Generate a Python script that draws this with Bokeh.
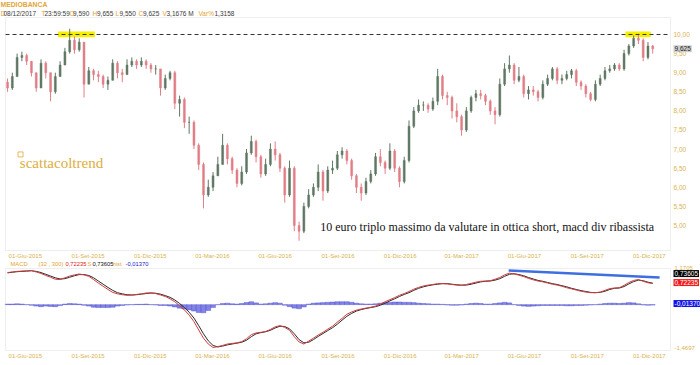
import pandas as pd
from bokeh.plotting import figure
from bokeh.models import Range1d, Label, BoxAnnotation
from bokeh.embed import file_html
from bokeh.resources import INLINE

DAY = 86400000


def ms(s):
    return pd.Timestamp(s).value // 10**6


# ---------------- data (weekly bars) ----------------
WEEK_END = pd.date_range("2015-05-08", "2017-12-08", freq="W-FRI")
FIRST_OPEN = 8.75
CLOSE = [
    8.6, 8.9, 9.4, 9.45, 9.3, 9.0, 8.6, 9.25, 9.0, 8.5,
    8.9, 9.2, 9.55, 9.85, 9.6, 9.8, 8.7, 9.05, 8.95, 8.9,
    8.7, 8.8, 9.25, 9.0, 8.95, 9.2, 9.3, 9.2, 9.3, 9.2,
    9.1, 9.1, 8.6, 8.85, 9.0, 8.2, 8.3, 7.7, 7.7, 7.1,
    6.6, 5.8, 6.0, 6.3, 6.6, 7.1, 6.75, 6.45, 6.1, 6.4,
    6.9, 7.2, 6.8, 6.35, 6.6, 7.0, 6.85, 6.5, 5.8, 6.5,
    5.0, 4.85, 5.5, 5.8, 6.0, 6.4, 5.9, 6.45, 6.5, 6.85,
    6.95, 6.7, 6.3, 6.0, 5.85, 6.15, 6.35, 6.8, 6.65, 6.5,
    6.95, 6.5, 6.15, 6.7, 7.6, 8.0, 8.15, 8.15, 8.05, 8.25,
    8.9, 8.4, 8.35, 8.0, 7.85, 7.5, 8.0, 8.35, 8.45, 8.4,
    8.25, 8.0, 7.9, 8.7, 9.1, 9.2, 8.8, 8.9, 8.45, 8.55,
    8.5, 8.35, 8.7, 8.85, 9.1, 8.8, 8.85, 8.95, 9.05, 8.75,
    8.65, 8.45, 8.3, 8.7, 8.85, 9.05, 9.1, 9.2, 9.1, 9.5,
    9.7, 9.9, 9.85, 9.4, 9.7, 9.625,
]
HIGH = [
    8.85, 9.0, 9.5, 9.55, 9.5, 9.3, 9.0, 9.35, 9.3, 9.0,
    9.0, 9.3, 9.65, 10.15, 9.95, 9.9, 9.8, 9.15, 9.1, 9.05,
    8.95, 8.9, 9.35, 9.3, 9.1, 9.35, 9.4, 9.35, 9.4, 9.35,
    9.25, 9.2, 9.1, 8.95, 9.05, 9.05, 8.4, 8.35, 7.85, 7.75,
    7.15, 6.65, 6.2, 6.4, 6.8, 7.4, 7.15, 6.8, 6.5, 6.55,
    7.0, 7.35, 7.25, 6.85, 6.75, 7.15, 7.2, 6.9, 6.55, 6.7,
    6.55, 5.1, 5.6, 5.95, 6.1, 6.6, 6.45, 6.55, 6.7, 6.95,
    7.05, 7.0, 6.75, 6.35, 6.1, 6.25, 6.45, 6.9, 7.0, 6.7,
    7.15, 7.0, 6.55, 6.8, 7.75, 8.1, 8.3, 8.25, 8.2, 8.35,
    9.1, 8.95, 8.5, 8.4, 8.2, 7.9, 8.1, 8.4, 8.55, 8.55,
    8.45, 8.3, 8.1, 8.85, 9.25, 9.45, 9.25, 9.15, 8.95, 8.65,
    8.65, 8.55, 8.8, 8.95, 9.15, 9.15, 8.95, 9.05, 9.1, 9.1,
    8.8, 8.7, 8.5, 8.8, 8.95, 9.15, 9.2, 9.25, 9.25, 9.6,
    9.75, 9.97, 10.02, 9.9, 9.8, 9.72,
]
LOW = [
    8.5, 8.55, 8.9, 9.3, 9.2, 8.9, 8.5, 8.6, 8.85, 8.25,
    8.45, 8.9, 9.2, 9.5, 9.5, 9.55, 8.35, 8.7, 8.8, 8.75,
    8.6, 8.55, 8.8, 8.85, 8.75, 8.95, 9.15, 9.1, 9.15, 9.1,
    9.0, 8.95, 8.4, 8.55, 8.8, 8.05, 7.85, 7.55, 7.4, 7.0,
    6.45, 5.45, 5.75, 5.9, 6.3, 6.6, 6.6, 6.35, 6.0, 6.05,
    6.35, 6.85, 6.65, 6.25, 6.3, 6.55, 6.7, 6.4, 5.6, 5.75,
    4.85, 4.6, 4.8, 5.45, 5.75, 5.9, 5.65, 5.85, 6.35, 6.45,
    6.75, 6.6, 6.2, 5.85, 5.65, 5.8, 6.1, 6.3, 6.55, 6.35,
    6.45, 6.4, 6.0, 6.1, 6.65, 7.55, 7.95, 8.0, 7.95, 8.0,
    8.15, 8.3, 8.15, 7.8, 7.7, 7.35, 7.45, 7.95, 8.25, 8.3,
    8.15, 7.9, 7.65, 7.85, 8.65, 9.0, 8.7, 8.75, 8.35, 8.3,
    8.4, 8.25, 8.3, 8.65, 8.8, 8.7, 8.7, 8.8, 8.85, 8.65,
    8.55, 8.35, 8.25, 8.25, 8.65, 8.8, 9.0, 9.05, 9.05, 9.05,
    9.45, 9.65, 9.75, 9.3, 9.35, 9.5,
]
MACD = [
    1.10, 1.12, 1.14, 1.15, 1.16, 1.17, 1.12, 1.07, 1.00, 0.94,
    0.87, 0.86, 0.92, 0.98, 1.02, 1.05, 1.02, 0.97, 0.86, 0.74,
    0.63, 0.52, 0.42, 0.37, 0.34, 0.32, 0.33, 0.35, 0.37, 0.40,
    0.40, 0.38, 0.33, 0.28, 0.20, 0.10, -0.04, -0.18, -0.36, -0.58,
    -0.87, -1.15, -1.35, -1.4697, -1.44, -1.40, -1.35, -1.33, -1.31, -1.27,
    -1.17, -1.03, -0.97, -0.95, -0.92, -0.85, -0.76, -0.72, -0.78, -0.88,
    -1.10, -1.28, -1.35, -1.25, -1.15, -1.04, -0.95, -0.84, -0.74, -0.60,
    -0.47, -0.33, -0.25, -0.19, -0.15, -0.12, -0.09, -0.05, 0.02, 0.10,
    0.17, 0.24, 0.32, 0.38, 0.45, 0.53, 0.59, 0.64, 0.67, 0.69,
    0.72, 0.72, 0.71, 0.69, 0.67, 0.66, 0.69, 0.73, 0.77, 0.80,
    0.81, 0.82, 0.87, 0.93, 1.02, 1.08, 1.05, 1.01, 0.96, 0.90,
    0.85, 0.81, 0.78, 0.74, 0.70, 0.67, 0.63, 0.58, 0.54, 0.50,
    0.46, 0.43, 0.41, 0.41, 0.43, 0.49, 0.55, 0.57, 0.58, 0.66,
    0.76, 0.83, 0.86, 0.80, 0.75, 0.72235,
]
SIGNAL = [
    1.09, 1.11, 1.13, 1.14, 1.15, 1.16, 1.14, 1.10, 1.04, 0.98,
    0.92, 0.88, 0.89, 0.94, 0.99, 1.03, 1.03, 1.00, 0.92, 0.81,
    0.70, 0.59, 0.49, 0.41, 0.37, 0.34, 0.33, 0.34, 0.36, 0.38,
    0.40, 0.39, 0.36, 0.31, 0.25, 0.16, 0.04, -0.10, -0.26, -0.46,
    -0.72, -1.00, -1.24, -1.40, -1.45, -1.42, -1.38, -1.35, -1.32, -1.29,
    -1.22, -1.10, -1.00, -0.96, -0.93, -0.88, -0.80, -0.74, -0.75, -0.83,
    -1.00, -1.20, -1.31, -1.29, -1.20, -1.09, -0.99, -0.89, -0.79, -0.67,
    -0.53, -0.40, -0.30, -0.22, -0.17, -0.13, -0.10, -0.07, -0.02, 0.05,
    0.13, 0.20, 0.28, 0.35, 0.41, 0.49, 0.56, 0.61, 0.65, 0.68,
    0.70, 0.72, 0.72, 0.70, 0.68, 0.67, 0.67, 0.70, 0.74, 0.78,
    0.80, 0.81, 0.84, 0.89, 0.97, 1.04, 1.06, 1.03, 0.99, 0.93,
    0.88, 0.83, 0.80, 0.76, 0.72, 0.69, 0.65, 0.61, 0.56, 0.52,
    0.48, 0.45, 0.42, 0.41, 0.42, 0.46, 0.52, 0.56, 0.57, 0.62,
    0.71, 0.79, 0.84, 0.82, 0.77, 0.73605,
]
HIST = [
    0.02, 0.02, 0.03, 0.02, 0.00, -0.02, -0.05, -0.07, -0.05, -0.06,
    -0.07, -0.03, 0.02, 0.04, 0.03, 0.02, -0.02, -0.05, -0.09, -0.10,
    -0.10, -0.10, -0.09, -0.05, -0.03, -0.01, 0.00, 0.01, 0.01, 0.02,
    0.00, -0.01, -0.03, -0.03, -0.05, -0.08, -0.12, -0.15, -0.18, -0.22,
    -0.27, -0.28, -0.20, -0.10, 0.00, 0.04, 0.05, 0.03, 0.02, 0.04,
    0.07, 0.10, 0.06, 0.02, 0.03, 0.05, 0.07, 0.05, -0.02, -0.07,
    -0.12, -0.14, -0.08, 0.02, 0.05, 0.06, 0.07, 0.08, 0.09, 0.10,
    0.10, 0.10, 0.08, 0.05, 0.03, 0.02, 0.02, 0.03, 0.05, 0.07,
    0.08, 0.09, 0.09, 0.08, 0.08, 0.07, 0.05, 0.04, 0.03, 0.02,
    0.02, 0.01, -0.01, -0.02, -0.02, -0.01, 0.02, 0.04, 0.05, 0.04,
    0.02, 0.02, 0.04, 0.06, 0.08, 0.06, 0.00, -0.03, -0.05, -0.06,
    -0.05, -0.04, -0.03, -0.03, -0.03, -0.03, -0.03, -0.04, -0.04, -0.03,
    -0.03, -0.02, -0.01, 0.00, 0.02, 0.04, 0.05, 0.05, 0.04, 0.05,
    0.07, 0.06, 0.03, -0.01, -0.02, -0.0137,
]

TICK_DATES = ["2015-06-01", "2015-09-01", "2015-12-01", "2016-03-01", "2016-06-01",
              "2016-09-01", "2016-12-01", "2017-03-01", "2017-06-01", "2017-09-01",
              "2017-12-01"]
TICK_LABELS = ["01-Giu-2015", "01-Set-2015", "01-Dic-2015", "01-Mar-2016", "01-Giu-2016",
               "01-Set-2016", "01-Dic-2016", "01-Mar-2017", "01-Giu-2017", "01-Set-2017",
               "01-Dic-2017"]
PRICE_TICKS = [5.0, 5.5, 6.0, 6.5, 7.0, 7.5, 8.0, 8.5, 9.0, 9.5, 10.0]
PRICE_LABELS = ["5,00", "5,50", "6,00", "6,50", "7,00", "7,50", "8,00", "8,50", "9,00", "9,50", "10,00"]
MACD_TICKS = [1.1705, -1.4697]
MACD_LABELS = ["1,1705", "-1,4697"]
LAST_CLOSE = 9.625
RESISTANCE = 10.0
HIGHLIGHTS = [("2015-07-19", "2015-09-11"), ("2017-10-27", "2017-12-03")]
TREND = (["2017-05-09", "2017-12-16"], [1.17, 0.93])

HEADER_1 = [("MEDIOBANCA", 0)]
HEADER_2 = [("D", 0, 0), ("08/12/2017", 3, 1), ("T", 41, 0), ("23:59:59", 44, 1),
            ("O", 69, 0), ("9,590", 72.5, 1), ("H", 92, 0), ("9,655", 96.5, 1),
            ("L", 115, 0), ("9,550", 119, 1), ("C", 138, 0), ("9,625", 142.5, 1),
            ("V", 162, 0), ("3,1676 M", 166, 1), ("Var%", 198, 0), ("1,3158", 214, 1)]
MACD_HEADER = [("MACD", 10, "g"), ("(32 , 300)", 38, "g"), ("0,72235", 65, "r"),
               ("S", 87, "g"), ("0,73605", 92, "k"), ("hist", 112, "g"),
               ("-0,01370", 125, "b")]

# ---------------- styling / layout ----------------
GOLD = "#e3a436"
AXIS_GOLD = "#d9b24e"
DARK = "#3a3a3a"
UP = "#5f7763"
DOWN = "#e07e87"
FONT = "Liberation Sans"
W, H = 700, 365
PANEL_LEFT, PANEL_RIGHT = ms("2015-05-03"), ms("2018-01-01")
PX_L, PX_R = 5.0, 670.0            # panel edges, canvas px
PY_TOP, PY_BOT = 17.0, 250.0       # price panel edges, canvas px
MY_TOP, MY_BOT = 268.0, 350.0      # macd panel edges, canvas px
P_LO, P_HI = 4.3455, 10.445
M_LO, M_HI = -1.5726, 1.2391

kx = (PANEL_RIGHT - PANEL_LEFT) / (PX_R - PX_L)
x_range = Range1d(PANEL_LEFT - PX_L * kx, PANEL_RIGHT + (W - PX_R) * kx)
kp = (P_HI - P_LO) / (PY_BOT - PY_TOP)
y_range = Range1d(P_LO - (H - PY_BOT) * kp, P_HI + PY_TOP * kp)
km = (M_HI - M_LO) / (MY_BOT - MY_TOP)
macd_range = Range1d(M_LO - (H - MY_BOT) * km, M_HI + MY_TOP * km)
X0 = x_range.start

n = min(len(WEEK_END), len(CLOSE), len(HIGH), len(LOW))
xc = [ms(d) - 2 * DAY for d in WEEK_END[:n]]
opens = [FIRST_OPEN] + CLOSE[:n - 1]
highs = [max(h, o, c) for h, o, c in zip(HIGH, opens, CLOSE)]
lows = [min(lo, o, c) for lo, o, c in zip(LOW, opens, CLOSE)]
colors = [UP if c >= o else DOWN for o, c in zip(opens, CLOSE)]
tops = [max(o, c) for o, c in zip(opens, CLOSE)]
bots = [min(o, c) for o, c in zip(opens, CLOSE)]
tick_ms = [ms(d) for d in TICK_DATES]

p = figure(width=W, height=H, x_range=x_range, y_range=y_range,
           x_axis_location=None, y_axis_location=None, min_border=0,
           output_backend="svg", toolbar_location=None, outline_line_color=None)
p.extra_y_ranges = {"macd": macd_range}
p.grid.visible = False


def lab(x, y, text, color, size="6.5px", font=FONT, xo=0, yo=0, align="left",
        rng="default", bold=False, bg=None):
    kw = {}
    if bg is not None:
        kw = dict(background_fill_color=bg, padding=1)
    p.add_layout(Label(x=x, y=y, x_offset=xo, y_offset=yo, text=text, text_color=color,
                       text_font=font, text_font_size=size, text_align=align,
                       text_baseline="middle", y_range_name=rng,
                       text_font_style="bold" if bold else "normal", **kw))


# panels
p.add_layout(BoxAnnotation(left=PANEL_LEFT, right=PANEL_RIGHT, bottom=P_LO, top=P_HI,
                           fill_alpha=0, line_color="#c6c6c6", line_width=1))
p.add_layout(BoxAnnotation(left=PANEL_LEFT, right=PANEL_RIGHT, bottom=M_LO, top=M_HI,
                           fill_alpha=0, line_color="#c6c6c6", line_width=1,
                           y_range_name="macd"))

# price panel
for a, b in HIGHLIGHTS:
    p.add_layout(BoxAnnotation(left=ms(a), right=ms(b), bottom=9.925, top=10.08,
                               fill_color="#f6f000", fill_alpha=1, line_color=None,
                               level="underlay"))
p.segment(x0=xc, y0=lows, x1=xc, y1=highs, color=colors, line_width=1)
p.vbar(x=xc, width=2.8 * DAY, top=tops, bottom=bots, fill_color=colors, line_color=colors,
       line_width=0.5)
p.line([PANEL_LEFT, PANEL_RIGHT], [RESISTANCE, RESISTANCE], line_color="#333333",
       line_dash="4 3", line_width=1)

p.scatter([ms("2015-05-25")], [6.86], marker="square", size=5, fill_color=None,
          line_color=GOLD, line_width=0.8)
lab(ms("2015-05-24"), 6.623, "scattacoltrend", "#dcae3c", size="15px", font="Liberation Serif")
lab(ms("2016-08-06"), 4.948,
    "10 euro triplo massimo da valutare in ottica short, macd div ribassista",
    "#111111", size="12px", font="Liberation Serif")

for t, s in zip(PRICE_TICKS, PRICE_LABELS):
    lab(PANEL_RIGHT, t, s, AXIS_GOLD, xo=3)
lab(PANEL_RIGHT, LAST_CLOSE, "9,625", "#222222", xo=3, bg="#cfcfcf")
for t, s in zip(tick_ms, TICK_LABELS):
    lab(t, P_LO, s, AXIS_GOLD, size="6px", yo=-5, align="center")

lab(X0, P_HI, HEADER_1[0][0], GOLD, size="6.8px", xo=HEADER_1[0][1], yo=13, bold=True)
for text, xo, kind in HEADER_2:
    lab(X0, P_HI, text, GOLD if kind == 0 else DARK, xo=xo, yo=4.5)

# MACD panel
p.vbar(x=xc, width=7 * DAY, top=HIST[:n], bottom=0, fill_color="#7474e4", fill_alpha=0.9,
       line_color="#4848cc", line_width=0.4, y_range_name="macd")
p.line(xc, SIGNAL[:n], line_color="#2a2a2a", line_width=1, y_range_name="macd")
p.line(xc, MACD[:n], line_color="#d43c3c", line_width=1, y_range_name="macd")
p.line([ms(d) for d in TREND[0]], TREND[1], line_color="#3d6fe0", line_width=2.5,
       y_range_name="macd")

for (t, s), yo in zip(zip(MACD_TICKS, MACD_LABELS), [3, -1]):
    lab(PANEL_RIGHT, t, s, AXIS_GOLD, size="6px", xo=4, yo=yo, rng="macd")
for val, yo, bg in [(SIGNAL[n - 1], 9.6, "#000000"), (MACD[n - 1], 1, "#ee1c1c"),
                    (HIST[n - 1], 1.5, "#1414e6")]:
    lab(PANEL_RIGHT, val, f"{val:.5f}".replace(".", ","), "white", xo=3, yo=yo,
        rng="macd", bg=bg)
for t, s in zip(tick_ms, TICK_LABELS):
    lab(t, M_LO, s, AXIS_GOLD, size="6px", yo=-5, align="center", rng="macd")

hcol = {"g": GOLD, "r": "#e02020", "k": "#111111", "b": "#2020c8"}
for text, xo, kind in MACD_HEADER:
    lab(X0, M_HI, text, hcol[kind], size="5.8px", xo=xo, yo=5, rng="macd")

open("out.html", "w").write(file_html(p, INLINE))
